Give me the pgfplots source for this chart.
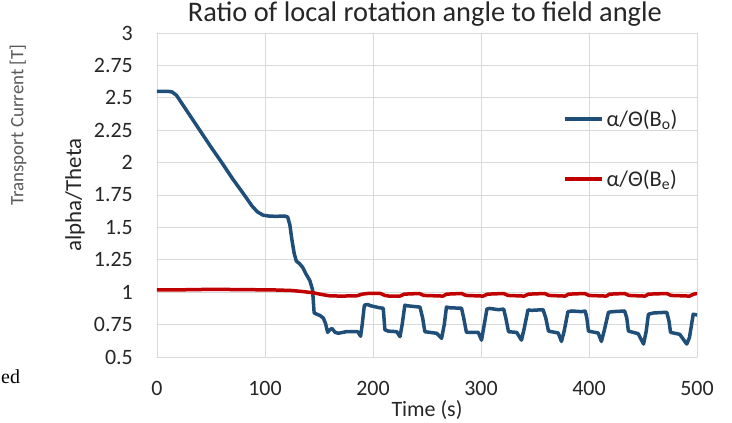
\documentclass[border=0pt]{standalone}
\usepackage{pgfplots}
\pgfplotsset{compat=1.18}
\usepackage{fontspec}
\setmainfont{Carlito}
\newfontfamily\seriffont{Liberation Serif}
\definecolor{bluec}{HTML}{1F4E79}
\definecolor{redc}{HTML}{C00000}
\definecolor{gridc}{HTML}{D9D9D9}
\definecolor{axc}{HTML}{BFBFBF}
\definecolor{txt}{HTML}{262626}
\begin{document}
\begin{tikzpicture}
\useasboundingbox (-157bp,-66bp) rectangle (575bp,357bp);
\begin{axis}[
  at={(0,0)}, anchor=south west,
  scale only axis, width=540bp, height=324bp,
  xmin=0, xmax=500, ymin=0.5, ymax=3,
  xtick={0,100,200,300,400,500},
  ytick={0.5,0.75,1,1.25,1.5,1.75,2,2.25,2.5,2.75,3},
  yticklabels={0.5,0.75,1,1.25,1.5,1.75,2,2.25,2.5,2.75,3},
  xticklabels={0,100,200,300,400,500},
  grid=major, major grid style={gridc, line width=0.8bp},
  axis line style={draw=none},
  extra y ticks={0.5}, extra y tick labels={},
  extra y tick style={grid style={axc, line width=1bp}},
  major tick length=0pt, tick style={draw=none},
  /pgf/number format/assume math mode=true,
  ticklabel style={font=\fontsize{22}{26}\selectfont, text=txt},
  xticklabel style={anchor=center, inner sep=0pt, yshift=-31.7bp},
  yticklabel style={anchor=east, inner sep=0pt, xshift=-24bp},
  xlabel={Time (s)},
  xlabel style={at={(axis description cs:0.5,-0.184)}, anchor=base, font=\fontsize{22}{26}\selectfont, text=txt},
  ylabel={alpha/Theta},
  ylabel style={at={(axis description cs:-0.152,0.5)}, anchor=center, font=\fontsize{23}{27}\selectfont, text=txt},
  title={Ratio of local rotation angle to field angle},
  title style={at={(axis description cs:0.496,1.0185)}, anchor=base, font=\fontsize{28.5}{33}\selectfont, text=txt},
  legend cell align=left,
  legend image code/.code={\draw[#1, line width=3.5bp] (0bp,0bp) -- (37bp,0bp);},
  legend style={draw=none, fill=none, inner sep=0pt, row sep=42bp, column sep=3bp,
    nodes={inner sep=0pt, anchor=west, font=\fontsize{22.5}{26}\selectfont, text=txt},
    at={(rel axis cs:0.7519,0.642)}, anchor=west},
  line join=round, line cap=round,
]
\addplot[bluec, line width=3.5bp] coordinates {
(0,2.55) (5,2.55) (10,2.55) (14,2.545) (18,2.52) (22,2.47) (30,2.37) (40,2.245)
(50,2.12) (60,2.0) (70,1.875) (80,1.76) (88,1.665) (93,1.62) (98,1.595) (103,1.588)
(110,1.585) (118,1.588) (121,1.58) (123,1.52) (125,1.40) (127,1.30) (129,1.24)
(132,1.22) (135,1.19) (138,1.14) (141.5,1.09) (144,1.02) (145,0.90) (145.5,0.84)
(148,0.83) (151,0.82) (154,0.80) (156,0.76) (158,0.69) (160,0.71) (162,0.72)
(165,0.69) (168,0.683) (175,0.695) (186,0.695) (188.5,0.66) (190,0.75) (192,0.90)
(195,0.905) (198,0.895) (206,0.88) (209.5,0.876) (211,0.71) (214,0.70) (222,0.695)
(225,0.657) (227,0.75) (229.5,0.90) (232,0.895) (243.5,0.885) (246,0.80) (248,0.695)
(259,0.683) (263.5,0.644) (266,0.75) (268,0.885) (271,0.88) (282,0.876) (284,0.80)
(286.5,0.69) (297.5,0.69) (300.5,0.63) (303,0.75) (305.5,0.87) (308,0.875) (316,0.865)
(321,0.87) (323,0.80) (325.5,0.695) (333,0.69) (337.5,0.63) (340,0.72) (343.5,0.863)
(347,0.86) (357.5,0.865) (360,0.80) (362.5,0.70) (371.5,0.685) (374.5,0.62) (377,0.70)
(380.5,0.85) (384,0.855) (393,0.85) (396.5,0.855) (398,0.80) (399.5,0.70) (408.5,0.685)
(411.5,0.62) (414,0.70) (418,0.845) (422,0.85) (433,0.855) (435,0.80) (436.5,0.70)
(445.5,0.68) (450.5,0.60) (453,0.70) (455,0.83) (460,0.84) (472,0.845) (474,0.78)
(475.5,0.69) (484,0.675) (490.5,0.60) (493,0.65) (496.5,0.83) (500,0.825)
};
\addlegendentry{α/Θ(B\textsubscript{o})}
\addplot[redc, line width=3.5bp] coordinates {
(0,1.017) (20,1.018) (50,1.022) (80,1.02) (110,1.017) (125,1.013) (135,1.005)
(145,0.995) (152,0.983) (160,0.972) (170,0.97) (185,0.972) (190,0.985) (195,0.99)
(207,0.99) (211,0.975) (215,0.97) (225,0.97) (229,0.985) (243,0.99) (247,0.975)
(265,0.97) (268,0.985) (282,0.99) (286,0.975) (302,0.97) (306,0.985) (321,0.99)
(325,0.975) (340,0.97) (344,0.985) (359,0.99) (363,0.975) (378,0.97) (381,0.985)
(396,0.99) (400,0.975) (416,0.97) (419,0.985) (433,0.99) (437,0.975) (452,0.97)
(455,0.985) (472,0.99) (476,0.975) (493,0.97) (497,0.985) (500,0.99)
};
\addlegendentry{α/Θ(B\textsubscript{e})}
\end{axis}
\node[rotate=90, font=\fontsize{19}{22}\selectfont, text=black!65] at (-139bp,232bp) {Transport Current [T]};
\node[anchor=base west, inner sep=0pt, font=\seriffont\fontsize{20}{24}\selectfont] at (-156bp,-26bp) {ed};
\end{tikzpicture}
\end{document}
